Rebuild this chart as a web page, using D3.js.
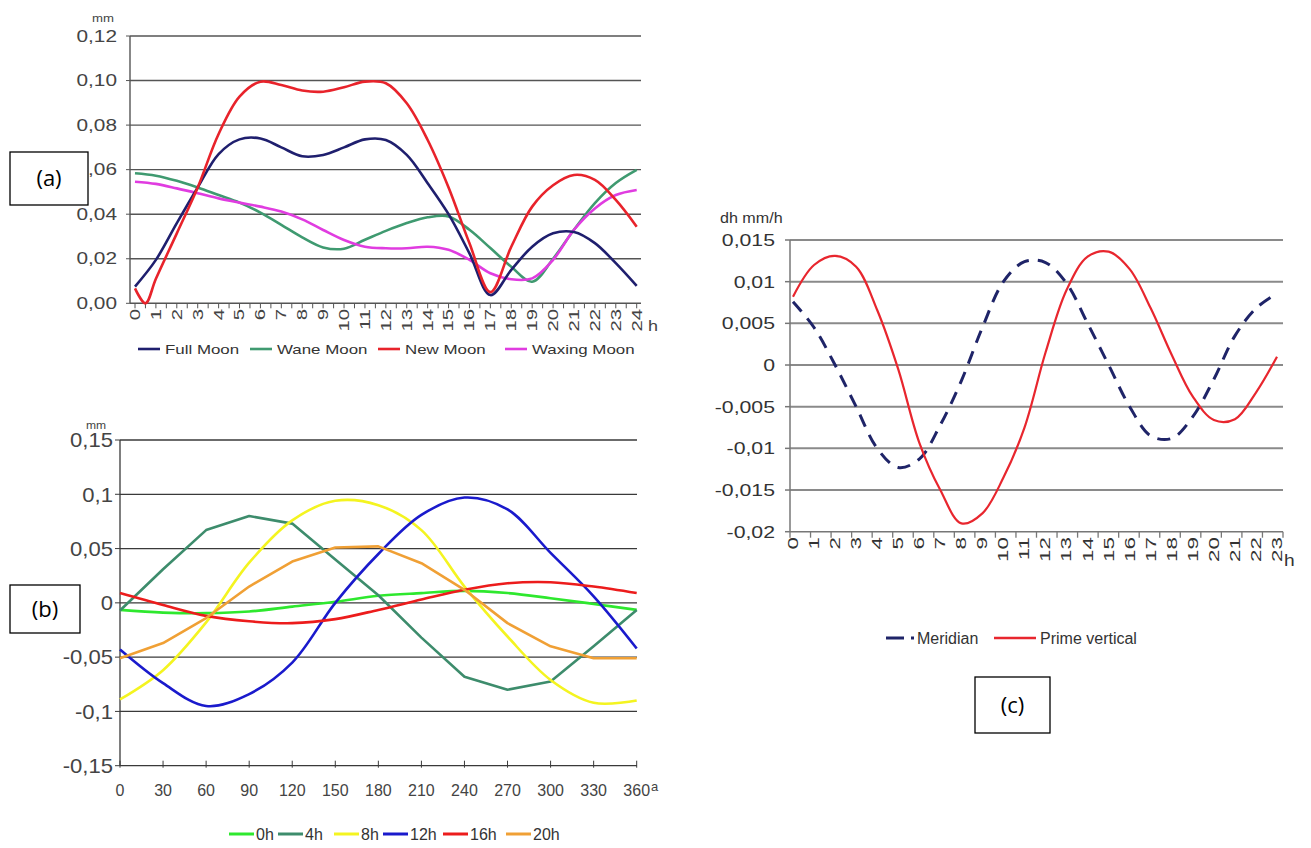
<!DOCTYPE html>
<html>
<head>
<meta charset="utf-8">
<script src="https://cdn.jsdelivr.net/npm/d3@7"></script>
<style>
  body { margin: 0; background: #fff; }
  svg { display: block; font-family: "Liberation Sans", Arial, sans-serif; }
</style>
</head>
<body>
<svg width="1311" height="848"></svg>
<script>
// ---- panel (a): deformation by moon phase, hourly
var hoursA = [0,1,2,3,4,5,6,7,8,9,10,11,12,13,14,15,16,17,18,19,20,21,22,23,24];
var fullMoon = [0.0075,0.0195,0.036,0.052,0.067,0.0736,0.074,0.070,0.066,0.0666,0.070,0.0736,0.0733,0.0666,0.0539,0.040,0.0224,0.0037,0.015,0.0254,0.0314,0.032,0.027,0.018,0.0078];
var waneMoon = [0.0584,0.0573,0.055,0.052,0.0486,0.0452,0.0407,0.0352,0.0296,0.0251,0.0245,0.0285,0.0325,0.036,0.0386,0.039,0.033,0.0248,0.0164,0.0097,0.020,0.033,0.045,0.054,0.0599];
var newMoonHours = [0,0.5,1,2,3,4,5,6,7,8,9,10,11,12,13,14,15,16,17,18,19,20,21,22,23,24];
var newMoon = [0.0067,0.0,0.011,0.0314,0.052,0.076,0.0928,0.0995,0.098,0.0955,0.095,0.097,0.0995,0.0988,0.0898,0.0733,0.052,0.027,0.005,0.0254,0.0434,0.053,0.0576,0.0554,0.0464,0.0344];
var waxingMoon = [0.0546,0.0536,0.0516,0.0494,0.0471,0.0452,0.0434,0.0412,0.0377,0.0329,0.0284,0.0254,0.0247,0.0247,0.0254,0.024,0.0195,0.0135,0.0108,0.0112,0.0195,0.033,0.0426,0.0486,0.0509];
var yTicksA = [0,0.02,0.04,0.06,0.08,0.10,0.12];

// ---- panel (b): by azimuth angle
var anglesB = [0,30,60,90,120,150,180,210,240,270,300,330,360];
var h0 = [-0.0065,-0.009,-0.0095,-0.008,-0.0035,0.001,0.0065,0.009,0.011,0.009,0.0043,-0.001,-0.0065];
var h4 = [-0.007,0.031,0.067,0.080,0.073,0.040,0.007,-0.032,-0.068,-0.080,-0.0725,-0.040,-0.0065];
var h8 = [-0.089,-0.062,-0.018,0.037,0.076,0.094,0.090,0.067,0.015,-0.031,-0.071,-0.092,-0.090];
var h12 = [-0.043,-0.074,-0.095,-0.084,-0.055,0.0,0.045,0.081,0.097,0.086,0.046,0.006,-0.042];
var h16 = [0.009,-0.002,-0.012,-0.017,-0.0187,-0.015,-0.0065,0.003,0.012,0.018,0.019,0.015,0.009];
var h20 = [-0.051,-0.037,-0.014,0.015,0.038,0.051,0.052,0.0365,0.012,-0.0187,-0.040,-0.051,-0.051];
var yTicksB = [-0.15,-0.1,-0.05,0,0.05,0.1,0.15];

// ---- panel (c): dh rate, meridian vs prime vertical
var hoursC = [0,1,2,3,4,5,6,7,8,9,10,11,12,13,14,15,16,17,18,19,20,21,22,23];
var meridian = [0.0076,0.0045,0.0,-0.005,-0.01,-0.0123,-0.0113,-0.0072,-0.0019,0.0045,0.01,0.0124,0.0123,0.0098,0.005,0.0,-0.005,-0.0085,-0.0088,-0.0062,-0.0017,0.0035,0.0068,0.0086];
var primeVertical = [0.0082,0.012,0.0131,0.0118,0.0066,-0.0005,-0.0093,-0.015,-0.019,-0.0178,-0.0135,-0.0075,0.0015,0.009,0.013,0.0136,0.0115,0.0068,0.0012,-0.0038,-0.0066,-0.0065,-0.0033,0.001];
var yTicksC = [-0.02,-0.015,-0.01,-0.005,0,0.005,0.01,0.015];

var comma = function (v) { return String(+v.toFixed(3)).replace(".", ","); };
var zip = function (xs, ys) { return xs.map(function (x, i) { return [x, ys[i]]; }); };

var svg = d3.select("svg");
svg.append("rect").attr("width", 1311).attr("height", 848).attr("fill", "#fff");

// text that is a bit wider than the font (the source picture is stretched sideways)
var wide = function (g, x, y, sx, size, str, anchor, fill) {
  return g.append("text")
    .attr("transform", "translate(" + x + "," + y + ") scale(" + sx + ",1)")
    .attr("dy", "0.35em").attr("text-anchor", anchor || "start")
    .attr("font-size", size).attr("fill", fill || "#444").text(str);
};

// ================= (a)
var xA = d3.scaleLinear().domain([0, 24]).range([135, 636.7]);
var yA = d3.scaleLinear().domain([0, 0.12]).range([303.3, 36]);
var gA = svg.append("g");

gA.selectAll(".grid").data(yTicksA.slice(1)).enter().append("line")
    .attr("x1", 130).attr("x2", 641)
    .attr("y1", function (d) { return yA(d); }).attr("y2", function (d) { return yA(d); })
    .attr("stroke", "#555").attr("stroke-width", 1.4);
gA.append("line").attr("x1", 130).attr("x2", 130).attr("y1", yA(0.12)).attr("y2", yA(0))
    .attr("stroke", "#555").attr("stroke-width", 1.4);
gA.append("line").attr("x1", 130).attr("x2", 641).attr("y1", yA(0)).attr("y2", yA(0))
    .attr("stroke", "#555").attr("stroke-width", 1.4);
gA.selectAll(".yt").data(yTicksA).enter().append("line")
    .attr("x1", 126).attr("x2", 130)
    .attr("y1", function (d) { return yA(d); }).attr("y2", function (d) { return yA(d); })
    .attr("stroke", "#555");
yTicksA.forEach(function (d) {
  wide(gA, 117, yA(d), 1.3, 16, d.toFixed(2).replace(".", ","), "end");
});
wide(gA, 103, 18, 1.2, 11, "mm", "middle");
gA.selectAll(".xt").data(d3.range(0, 24.01, 0.5)).enter().append("line")
    .attr("x1", function (d) { return xA(d); }).attr("x2", function (d) { return xA(d); })
    .attr("y1", yA(0)).attr("y2", yA(0) + 5).attr("stroke", "#555");
gA.selectAll(".xl").data(hoursA).enter().append("text")
    .attr("transform", function (d) { return "translate(" + xA(d) + ",309) rotate(-90) scale(1.45,1)"; })
    .attr("dy", "0.35em").attr("text-anchor", "end").attr("font-size", 14).attr("fill", "#444")
    .text(function (d) { return d; });
wide(gA, 648, 326, 1.2, 15, "h");

var lineA = d3.line().x(function (d) { return xA(d[0]); }).y(function (d) { return yA(d[1]); })
    .curve(d3.curveCatmullRom.alpha(0.5));
var seriesA = [
  { name: "Full Moon", pts: zip(hoursA, fullMoon), color: "#1f1f6e" },
  { name: "Wane Moon", pts: zip(hoursA, waneMoon), color: "#3f9a70" },
  { name: "New Moon", pts: zip(newMoonHours, newMoon), color: "#e8232b" },
  { name: "Waxing Moon", pts: zip(hoursA, waxingMoon), color: "#e03ce0" }
];
[1, 3, 0, 2].forEach(function (i) {
  gA.append("path").attr("d", lineA(seriesA[i].pts)).attr("fill", "none")
    .attr("stroke", seriesA[i].color).attr("stroke-width", 2.6);
});
var legA = [138, 250, 378, 505];
seriesA.forEach(function (s, i) {
  gA.append("line").attr("x1", legA[i]).attr("x2", legA[i] + 22).attr("y1", 349).attr("y2", 349)
    .attr("stroke", s.color).attr("stroke-width", 2.6);
  wide(gA, legA[i] + 27, 349, 1.3, 13, s.name, "start", "#333");
});

// ================= (b)
var xB = d3.scaleLinear().domain([0, 360]).range([120, 636.7]);
var yB = d3.scaleLinear().domain([-0.15, 0.15]).range([765.7, 440]);
var gB = svg.append("g");

gB.selectAll(".grid").data(yTicksB.slice(1)).enter().append("line")
    .attr("x1", 120).attr("x2", 637)
    .attr("y1", function (d) { return yB(d); }).attr("y2", function (d) { return yB(d); })
    .attr("stroke", "#3a3a3a").attr("stroke-width", 1.3);
gB.append("line").attr("x1", 120).attr("x2", 120).attr("y1", yB(0.15)).attr("y2", yB(-0.15))
    .attr("stroke", "#3a3a3a").attr("stroke-width", 1.3);
gB.append("line").attr("x1", 120).attr("x2", 637).attr("y1", yB(-0.15)).attr("y2", yB(-0.15))
    .attr("stroke", "#3a3a3a").attr("stroke-width", 1.3);
gB.selectAll(".yt").data(yTicksB).enter().append("line")
    .attr("x1", 115).attr("x2", 120)
    .attr("y1", function (d) { return yB(d); }).attr("y2", function (d) { return yB(d); })
    .attr("stroke", "#3a3a3a");
gB.selectAll(".xt").data(anglesB).enter().append("line")
    .attr("x1", function (d) { return xB(d); }).attr("x2", function (d) { return xB(d); })
    .attr("y1", yB(-0.15) - 5).attr("y2", yB(-0.15) + 2).attr("stroke", "#3a3a3a");
yTicksB.forEach(function (d) {
  wide(gB, 113, yB(d), 1.05, 21, comma(d), "end");
});
wide(gB, 96, 425, 1.1, 11, "mm", "middle");
anglesB.forEach(function (d) {
  wide(gB, xB(d), 790, 1.0, 16, d, "middle");
});
wide(gB, 651, 786, 1.0, 13, "a");

var lineSmooth = d3.line().x(function (d) { return xB(d[0]); }).y(function (d) { return yB(d[1]); })
    .curve(d3.curveCatmullRom.alpha(0.5));
var lineStraight = d3.line().x(function (d) { return xB(d[0]); }).y(function (d) { return yB(d[1]); });
var seriesB = [
  { name: "0h", vals: h0, color: "#2ee82e", line: lineSmooth },
  { name: "4h", vals: h4, color: "#3d8c6c", line: lineStraight },
  { name: "8h", vals: h8, color: "#f4f420", line: lineSmooth },
  { name: "12h", vals: h12, color: "#1a1acc", line: lineSmooth },
  { name: "16h", vals: h16, color: "#ec1c1c", line: lineSmooth },
  { name: "20h", vals: h20, color: "#f0a035", line: lineStraight }
];
seriesB.forEach(function (s) {
  gB.append("path").attr("d", s.line(zip(anglesB, s.vals))).attr("fill", "none")
    .attr("stroke", s.color).attr("stroke-width", 2.6).attr("stroke-linejoin", "round");
});
var legB = [229, 278, 334, 383, 443, 506];
seriesB.forEach(function (s, i) {
  gB.append("line").attr("x1", legB[i]).attr("x2", legB[i] + 25).attr("y1", 834).attr("y2", 834)
    .attr("stroke", s.color).attr("stroke-width", 3);
  wide(gB, legB[i] + 27, 834, 1.0, 16, s.name, "start", "#333");
});

// ================= (c)
var xC = d3.scaleLinear().domain([0, 23]).range([793, 1277]);
var yC = d3.scaleLinear().domain([-0.02, 0.015]).range([531.7, 240]);
var tickC = d3.scaleLinear().domain([0, 24]).range([790, 1283]);
var gC = svg.append("g");

gC.selectAll(".grid").data(yTicksC.slice(1)).enter().append("line")
    .attr("x1", 790).attr("x2", 1283)
    .attr("y1", function (d) { return yC(d); }).attr("y2", function (d) { return yC(d); })
    .attr("stroke", "#8a8a8a").attr("stroke-width", 2);
gC.append("line").attr("x1", 790).attr("x2", 790).attr("y1", yC(0.015)).attr("y2", yC(-0.02))
    .attr("stroke", "#777").attr("stroke-width", 1.5);
gC.append("line").attr("x1", 790).attr("x2", 1283).attr("y1", yC(-0.02)).attr("y2", yC(-0.02))
    .attr("stroke", "#777").attr("stroke-width", 1.5);
gC.selectAll(".yt").data(yTicksC).enter().append("line")
    .attr("x1", 785).attr("x2", 790)
    .attr("y1", function (d) { return yC(d); }).attr("y2", function (d) { return yC(d); })
    .attr("stroke", "#777").attr("stroke-width", 1.5);
gC.selectAll(".xt").data(d3.range(25)).enter().append("line")
    .attr("x1", function (d) { return tickC(d); }).attr("x2", function (d) { return tickC(d); })
    .attr("y1", yC(-0.02)).attr("y2", yC(-0.02) + 6).attr("stroke", "#777").attr("stroke-width", 1.3);
yTicksC.forEach(function (d) {
  wide(gC, 775, yC(d), 1.25, 17, comma(d), "end", "#333");
});
wide(gC, 720, 218, 1.15, 14, "dh mm/h", "start", "#333");
gC.selectAll(".xl").data(hoursC).enter().append("text")
    .attr("transform", function (d) { return "translate(" + xC(d) + ",537) rotate(-90) scale(1.6,1)"; })
    .attr("dy", "0.35em").attr("text-anchor", "end").attr("font-size", 14).attr("fill", "#333")
    .text(function (d) { return d; });
wide(gC, 1284, 560, 1.2, 16, "h", "start", "#333");

var lineC = d3.line().x(function (d) { return xC(d[0]); }).y(function (d) { return yC(d[1]); })
    .curve(d3.curveCatmullRom.alpha(0.5));
gC.append("path").attr("d", lineC(zip(hoursC, meridian))).attr("fill", "none")
    .attr("stroke", "#1f2468").attr("stroke-width", 3).attr("stroke-dasharray", "13,9");
gC.append("path").attr("d", lineC(zip(hoursC, primeVertical))).attr("fill", "none")
    .attr("stroke", "#e8262e").attr("stroke-width", 2.2);

gC.append("line").attr("x1", 886).attr("x2", 914).attr("y1", 638).attr("y2", 638)
    .attr("stroke", "#1f2468").attr("stroke-width", 3).attr("stroke-dasharray", "18,7");
wide(gC, 917, 638, 1.0, 16, "Meridian", "start", "#333");
gC.append("line").attr("x1", 994).attr("x2", 1036).attr("y1", 638).attr("y2", 638)
    .attr("stroke", "#e8262e").attr("stroke-width", 2.4);
wide(gC, 1040, 638, 1.0, 16, "Prime vertical", "start", "#333");

// ================= panel labels
var boxes = [
  { t: "(a)", x: 10, y: 152, w: 78, h: 53 },
  { t: "(b)", x: 10, y: 585, w: 70, h: 48 },
  { t: "(c)", x: 975, y: 677, w: 75, h: 56 }
];
boxes.forEach(function (b) {
  svg.append("rect").attr("x", b.x).attr("y", b.y).attr("width", b.w).attr("height", b.h)
    .attr("fill", "#fff").attr("stroke", "#000").attr("stroke-width", 1.3);
  svg.append("text").attr("x", b.x + b.w / 2).attr("y", b.y + b.h / 2).attr("dy", "0.35em")
    .attr("text-anchor", "middle").attr("font-size", 22).attr("fill", "#000")
    .attr("font-family", "'Open Sans', 'Liberation Sans', sans-serif").text(b.t);
});
</script>
</body>
</html>
